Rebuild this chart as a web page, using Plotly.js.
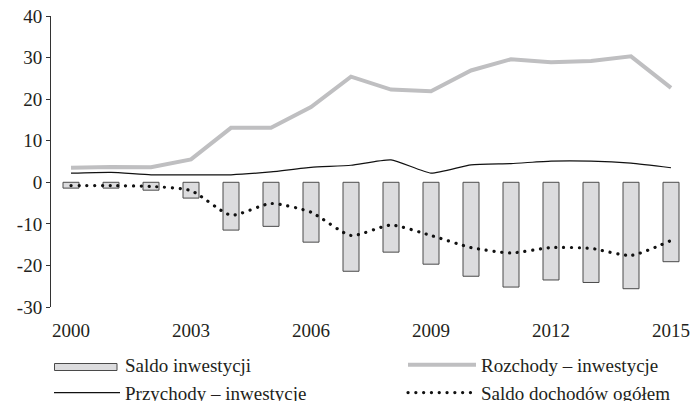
<!DOCTYPE html>
<html>
<head>
<meta charset="utf-8">
<script src="https://cdn.plot.ly/plotly-3.0.1.min.js"></script>
<style>
html,body{margin:0;padding:0;background:#fff;}
#chart{width:691px;height:401px;}
path[style*="stroke-dasharray"]{stroke-linecap:round;}
</style>
</head>
<body>
<div id="chart"></div>
<script>
const years = [2000,2001,2002,2003,2004,2005,2006,2007,2008,2009,2010,2011,2012,2013,2014,2015];
const saldoInwestycji = [-1.4,-1.4,-1.9,-3.8,-11.5,-10.6,-14.4,-21.4,-16.8,-19.7,-22.6,-25.2,-23.5,-24.1,-25.6,-19.1];
const rozchodyInwestycje = [3.5,3.7,3.6,5.5,13.1,13.1,18.1,25.4,22.3,21.9,26.9,29.6,28.9,29.2,30.3,22.7];
const przychodyInwestycje = [2.2,2.4,1.8,1.8,1.8,2.5,3.6,4.1,5.4,2.2,4.2,4.5,5.1,5.1,4.6,3.5];
const saldoDochodow = [-0.8,-0.8,-1.0,-2.0,-7.9,-5.1,-7.2,-12.8,-10.3,-12.8,-15.7,-17.0,-15.7,-15.9,-17.6,-14.0];
const xTickLabels = ['2000','2003','2006','2009','2012','2015'];
const yTickVals = [-30,-20,-10,0,10,20,30,40];
const yTickText = ['-30','-20','-10','0','10','20','30','40'];
const seriesNames = ['Saldo inwestycji','Rozchody – inwestycje','Przychody – inwestycje','Saldo dochodów ogółem'];

const font = {family:'Liberation Serif', size:19, color:'#231f20'};
const barFill = '#dcdcde', barLine = '#4a4a4a';

const traces = [
  // legend entry for the bars (symbol drawn as a wide box below)
  {type:'scatter', mode:'lines', x:[null], y:[null], name:seriesNames[0],
   line:{color:'rgba(0,0,0,0)', width:0}, legend:'legend', hoverinfo:'skip'},
  {type:'bar', x:years, y:saldoInwestycji, name:seriesNames[0], width:0.4, showlegend:false,
   marker:{color:barFill, line:{color:barLine, width:1}}},
  {type:'scatter', mode:'lines', x:years, y:rozchodyInwestycje, name:seriesNames[1],
   line:{color:'#bfbfc1', width:4}, legend:'legend2'},
  {type:'scatter', mode:'lines', x:years, y:przychodyInwestycje, name:seriesNames[2],
   line:{color:'#111', width:1.2, shape:'spline', smoothing:0.5}, legend:'legend'},
  {type:'scatter', mode:'lines', x:years, y:saldoDochodow, name:seriesNames[3],
   line:{color:'#111', width:3.2, dash:'0.1px,7.7px', shape:'spline', smoothing:0.6}, legend:'legend2'}
];

const boundaryTicks = years.map(v => v + 0.5);

// plot area: x 51..691, y 16..307
const L = 51, W = 640, T = 16, H = 291;
const px = v => (v - L) / W;
const py = v => (T + H - v) / H;

const layout = {
  width:691, height:401,
  margin:{l:L, r:691-L-W, t:T, b:401-T-H, autoexpand:false},
  paper_bgcolor:'#fff', plot_bgcolor:'#fff',
  font:font,
  showlegend:true,
  bargap:0,
  xaxis:{range:[1999.5,2015.5], tickmode:'array', tickvals:xTickLabels.map(Number), ticktext:xTickLabels,
         showline:false, showgrid:false, zeroline:false, ticks:'', ticklabelstandoff:10, fixedrange:true},
  xaxis2:{overlaying:'x', anchor:'free', position:30/70, range:[1999.5,2015.5], tickmode:'array',
          tickvals:boundaryTicks, showticklabels:false, ticks:'outside', ticklen:4, tickcolor:'#333', tickwidth:1,
          showline:true, linecolor:'#333', linewidth:1, showgrid:false, zeroline:false},
  yaxis:{range:[-30,40], tickmode:'array', tickvals:yTickVals, ticktext:yTickText, ticks:'outside', ticklen:4,
         tickcolor:'#333', showline:true, linecolor:'#333', linewidth:1, showgrid:false, zeroline:false},
  legend:{x:px(49), y:py(346), xanchor:'left', yanchor:'top', orientation:'v', itemwidth:66,
          bgcolor:'rgba(0,0,0,0)', font:font},
  legend2:{x:px(403), y:py(346), xanchor:'left', yanchor:'top', orientation:'v', itemwidth:68,
          bgcolor:'rgba(0,0,0,0)', font:font},
  shapes:[
    {type:'rect', xref:'paper', yref:'paper', x0:px(54.5), x1:px(117), y0:py(363.5), y1:py(370.5),
     fillcolor:barFill, line:{color:barLine, width:1}}
  ]
};

Plotly.newPlot('chart', traces, layout, {staticPlot:true, displayModeBar:false});
</script>
</body>
</html>
